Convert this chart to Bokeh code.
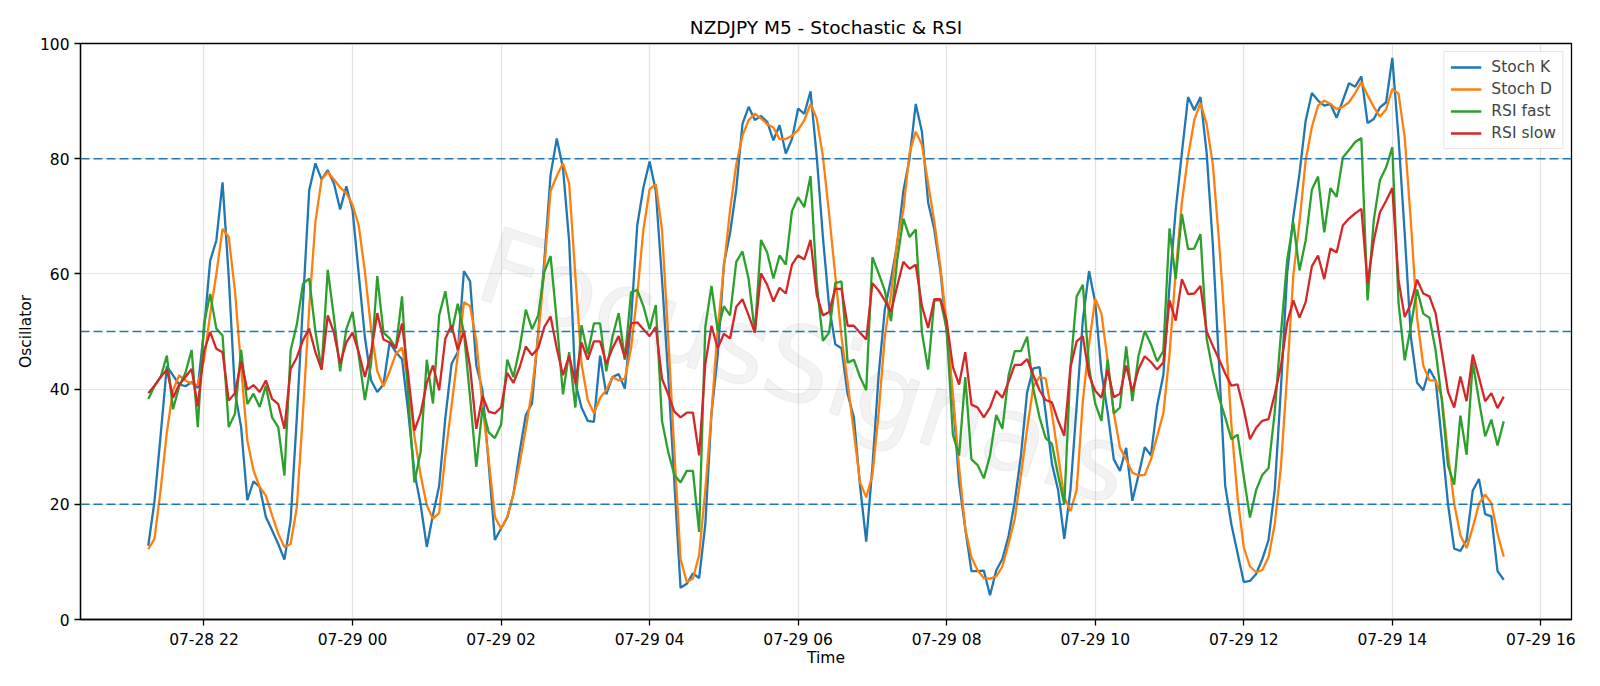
import pandas as pd
from bokeh.plotting import figure
from bokeh.models import Range1d, FixedTicker, DatetimeTickFormatter, Span, Legend, LegendItem
from bokeh.core.properties import value
from bokeh.embed import file_html
from bokeh.resources import INLINE

# ---------------- data ----------------
start_time = "2025-07-28 21:15"
n_points = 220

stoch_k = [
    12.8, 20.5, 32, 44, 42.4, 40.8, 40.5, 41.2, 40.2, 50.2,
    62.3, 65.8, 75.9, 59.5, 39.5, 33.4, 20.7, 24, 23, 17.8,
    15.5, 13.1, 10.4, 17.2, 35, 55, 74.5, 79.2, 76.4, 78,
    75.7, 71.2, 75.2, 71.1, 60, 49, 41.5, 39.5, 40.8, 48.1,
    46.4, 45.2, 36, 25.5, 20, 12.6, 18.2, 23.2, 35, 44.4,
    46.4, 60.5, 58.7, 44.1, 39.8, 27, 13.8, 15.8, 17.7, 21.8,
    29.1, 35.5, 37.5, 49.8, 62.4, 77.2, 83.5, 78.4, 65.7, 41.1,
    36.8, 34.5, 34.3, 45.8, 39.1, 42.1, 42.6, 40.1, 51.8, 68.4,
    75, 79.5, 74.4, 59.1, 42.4, 23.8, 5.5, 6.2, 8, 7.2,
    16.5, 35.8, 45.8, 61.7, 67.1, 74.7, 86, 89, 86.7, 87.4,
    86.4, 83.2, 85.8, 80.9, 83.4, 88.7, 87.8, 91.7, 80.4, 66.4,
    54.4, 47.8, 47.1, 39.1, 35.1, 23.2, 13.5, 26.5, 42.4, 53.8,
    59.1, 65.1, 74.4, 80, 89.5, 84.7, 72.4, 67.7, 60.4, 49.8,
    38.5, 23.8, 15.8, 8.4, 8.4, 8.5, 4.2, 8.5, 10.5, 14.5,
    20.5, 28.5, 39.5, 43.6, 43.8, 35.8, 27.1, 22.5, 14, 22.5,
    37.1, 52, 60.5, 55, 43, 36, 27.8, 25.8, 29.8, 20.6,
    25.1, 29.9, 28.5, 37.1, 42.4, 58, 71.1, 81, 90.7, 88.4,
    90.7, 81, 65.1, 44.4, 23.2, 16.5, 11.5, 6.5, 6.7, 7.9,
    10.5, 13.8, 22.5, 40, 60, 69.8, 77.4, 86.6, 91.4, 90.1,
    89.2, 89.5, 87.1, 90.1, 93.1, 92.5, 94.3, 86.2, 86.9, 88.9,
    89.8, 97.5, 83.7, 67, 49, 41.1, 39.8, 43.5, 41.5, 31,
    20, 12.3, 11.9, 13.8, 22.4, 24.4, 18.3, 17.9, 8.4, 6.9,
]

stoch_d = [
    12.2, 14, 22.5, 32.5, 39.8, 42.4, 41.5, 41, 40.7, 45,
    53, 60, 67.8, 66.4, 57.1, 43.8, 31.1, 25.9, 23, 21.5,
    18.1, 14.9, 12.6, 13.1, 19.5, 36, 54, 69, 76.4, 77.7,
    76.4, 75, 74, 72, 68.4, 60.4, 50.4, 43.1, 40.5, 43.1,
    46.1, 47.2, 41.1, 31.8, 25.1, 19.8, 17.5, 18.5, 28.5, 37.1,
    45.8, 55.1, 54.4, 48.4, 37.1, 27.8, 17.8, 15.8, 17.8, 21.8,
    27.1, 33.1, 39.8, 49.1, 61.1, 74.4, 77, 79.2, 75.7, 59.7,
    44.4, 38.1, 35.8, 38.5, 39.8, 42.1, 41.5, 41.8, 47.1, 56.4,
    67.7, 74.7, 75.6, 67.7, 49.1, 29.1, 10.5, 6.5, 7.1, 11.2,
    22.5, 35.8, 50.4, 61.1, 71.1, 79, 84, 86.7, 87.8, 87,
    86, 85.4, 83.4, 83.4, 84, 85, 86.7, 89.5, 87, 80.4,
    70.4, 59.7, 49.1, 41.1, 32.5, 23.8, 21.2, 25.1, 35.8, 49.1,
    56.4, 65.7, 71.1, 81, 84.7, 82.4, 75.7, 69.1, 61.1, 51.1,
    39.1, 26.5, 15.8, 10.8, 8.5, 7.2, 7.1, 7.5, 9.2, 13.2,
    17.5, 25.1, 33.1, 40.5, 42.1, 41.8, 35.8, 28.5, 21.2, 18.8,
    22.5, 38, 47.8, 55.7, 53.1, 45, 35.8, 29.8, 27.8, 25.5,
    25, 25.1, 27.8, 31.8, 35.8, 46, 60.4, 72.4, 80.4, 86.7,
    89.7, 86, 79, 65.7, 50.4, 33.8, 21.2, 12.5, 9.2, 8.2,
    8.6, 10.8, 16.5, 26.5, 42.4, 59.7, 69, 79.7, 85.5, 89.2,
    90.1, 89.5, 88.6, 89, 89.8, 91.4, 93.3, 91, 89, 87.3,
    88.6, 92.1, 91.3, 83.7, 69, 52.4, 44.1, 41.5, 41.5, 38.6,
    28.8, 20.1, 14.6, 12.4, 16, 20.1, 21.7, 20.2, 14.9, 10.9,
]

rsi_fast = [
    38.3, 40.5, 42.1, 45.8, 36.5, 40.5, 42.8, 46.8, 33.4, 51.3,
    56.5, 50.5, 49.3, 33.4, 35.7, 46.8, 37.4, 39.2, 36.9, 40.6,
    35.1, 33.4, 25, 46.7, 51.2, 58.3, 59.2, 50, 43.4, 60.7,
    52.4, 43.1, 50.4, 53.4, 45.8, 38.1, 44.4, 59.6, 49.8, 48.8,
    47.1, 56.1, 38.5, 23.8, 29.1, 45.1, 37.5, 52.8, 57, 49.8,
    54.8, 49.8, 38.5, 26.5, 36.8, 32.5, 31.5, 33.8, 45.1, 42.1,
    47.1, 53.8, 50.4, 52.8, 60.4, 63.1, 51.8, 39.1, 46.4, 36.8,
    51.1, 46.1, 51.4, 51.4, 43.1, 49.1, 53.2, 45.1, 56.8, 57.2,
    54.4, 50.4, 54.6, 34.5, 29.1, 25.1, 23.8, 25.8, 25.8, 15.2,
    50.8, 57.9, 50.1, 54.4, 52.8, 62.1, 63.9, 59.1, 49.8, 65.9,
    63.7, 59.2, 63.2, 61.6, 70.9, 73.3, 71.6, 77, 58.4, 48.4,
    49.8, 58.4, 58.7, 44.6, 45.1, 42.1, 39.8, 62.9, 60.1, 57.1,
    51.8, 62.4, 69.6, 66.4, 67.7, 49.8, 43.4, 55.4, 55.4, 50.4,
    32.1, 28.5, 42.1, 27.8, 26.8, 24.5, 28.5, 35.5, 33.1, 42.4,
    46.6, 46.6, 49.1, 40, 35.1, 31.5, 30.5, 25.1, 20, 43.8,
    56.1, 58.1, 43.8, 37.5, 34.5, 45.1, 35.8, 36.8, 47.4, 37.9,
    45.8, 50.1, 47.8, 44.8, 46.6, 67.9, 59.1, 70.4, 64.3, 64.4,
    66.9, 48.8, 43.1, 38.5, 35.1, 31.3, 32.1, 24.8, 17.7, 22.5,
    25.1, 26.3, 36, 49.6, 62.3, 69, 60.6, 65.8, 74.6, 76.9,
    67.2, 74.9, 73.4, 80.2, 81.5, 82.9, 83.6, 55.4, 69.3, 76.3,
    78.5, 82, 55, 45, 51, 57.3, 53.1, 52.4, 46.7, 38,
    26.7, 23.4, 35.4, 28.6, 44.7, 38, 31.8, 34.7, 30.2, 34.4,
]

rsi_slow = [
    39.3, 40.6, 42.1, 43.4, 38.5, 40.8, 42.1, 43.5, 37, 46.5,
    49.9, 47, 46.4, 38, 39.3, 44.8, 39.9, 40.7, 39.5, 41.5,
    38.3, 37.4, 33.1, 43.5, 45.5, 48.5, 50.5, 46.4, 43.4, 52.8,
    49.8, 44.4, 48.1, 49.8, 46.4, 42.1, 46.4, 53.2, 48.6, 48.1,
    47.1, 51.4, 42.4, 32.8, 35.8, 41.1, 44.1, 39.8, 48.8, 51.1,
    46.8, 50.1, 43.8, 33.1, 38.8, 36.1, 35.8, 36.8, 42.8, 41.1,
    43.8, 47.4, 45.9, 47.1, 50.8, 52.6, 47.1, 42.4, 45.8, 41.1,
    48.1, 45.1, 48.3, 48.3, 44.4, 47.1, 49.2, 45.4, 51.4, 51.6,
    50.4, 49.2, 50.8, 41.8, 39.1, 36.1, 35.1, 35.9, 35.9, 28.5,
    44.4, 51, 47.1, 49.6, 48.8, 54.3, 55.6, 52.8, 49.8, 60.1,
    58.1, 55.2, 57.6, 56.6, 61.6, 63.2, 62.5, 65.9, 56.4, 52.8,
    53.4, 57.4, 57.4, 51, 51, 49.8, 48.6, 58.4, 57.1, 55.4,
    53.4, 57.9, 62.1, 60.9, 61.6, 54.4, 50.6, 55.6, 55.6, 51.8,
    43.8, 40.8, 46.4, 37.3, 36.8, 35.1, 36.8, 39.7, 38.5, 41.3,
    44.2, 44.2, 45.2, 42.4, 39.8, 38.1, 37.7, 34.5, 31.9, 43.8,
    48.3, 49.2, 42.4, 39.7, 38.5, 43.3, 38.6, 39.2, 44.1, 39.6,
    43.5, 45.7, 44.7, 43.4, 44.6, 55.4, 51.9, 59.1, 56.5, 56.6,
    57.9, 50, 47.5, 45.2, 42.7, 40.6, 40.8, 36.5, 31.3, 33.3,
    34.5, 34.8, 39.1, 44, 51.5, 55.4, 52.4, 55.1, 61.3, 63.2,
    59.1, 64.4, 63.7, 68.4, 69.6, 70.5, 71.3, 58.4, 65.8, 70.7,
    72.7, 74.9, 58.9, 52.5, 54.8, 59, 56.6, 56.1, 53.1, 46.4,
    39.5, 36.8, 42.2, 37.9, 46, 42, 37.9, 39.3, 36.7, 38.7,
]

levels = [20, 50, 80]
y_ticks = [0, 20, 40, 60, 80, 100]
x_tick_times = ["2025-07-28 22:00", "2025-07-29 00:00", "2025-07-29 02:00",
                "2025-07-29 04:00", "2025-07-29 06:00", "2025-07-29 08:00",
                "2025-07-29 10:00", "2025-07-29 12:00", "2025-07-29 14:00",
                "2025-07-29 16:00"]
series_names = ["Stoch K", "Stoch D", "RSI fast", "RSI slow"]
series_colors = ["#1f77b4", "#ff7f0e", "#2ca02c", "#d62728"]
watermark_text = "FocusSignals"

# ---------------- figure ----------------
times = pd.date_range(start_time, periods=n_points, freq="5min")
span = times[-1] - times[0]
x0 = times[0] - span * 0.05
x1 = times[-1] + span * 0.05

FONT = "DejaVu Sans"
p = figure(width=1600, height=686, x_axis_type="datetime",
           x_range=Range1d(x0, x1), y_range=Range1d(0, 100),
           output_backend="svg", toolbar_location=None,
           min_border_left=80, min_border_right=29,
           min_border_top=43, min_border_bottom=67,
           title="NZDJPY M5 - Stochastic & RSI")

p.title.text_font = FONT
p.title.text_font_size = "18.5px"
p.title.text_font_style = "normal"
p.title.text_color = "black"
p.title.align = "center"
p.title.standoff = 12

p.background_fill_color = "white"
p.border_fill_color = "white"
p.outline_line_color = "black"
p.outline_line_width = 1.3
p.outline_line_alpha = 1

p.xgrid.grid_line_color = "#b0b0b0"
p.ygrid.grid_line_color = "#b0b0b0"
p.xgrid.grid_line_alpha = 0.35
p.ygrid.grid_line_alpha = 0.35
p.xgrid.grid_line_width = 1.2
p.ygrid.grid_line_width = 1.2

tick_ms = [pd.Timestamp(t).value / 1e6 for t in x_tick_times]
p.xaxis.ticker = FixedTicker(ticks=tick_ms)
fmt = "%m-%d %H"
p.xaxis.formatter = DatetimeTickFormatter(
    microseconds=fmt, milliseconds=fmt, seconds=fmt, minsec=fmt,
    minutes=fmt, hourmin=fmt, hours=fmt, days=fmt, months=fmt, years=fmt)
p.yaxis.ticker = FixedTicker(ticks=y_ticks)

for ax in (p.xaxis, p.yaxis):
    ax.major_label_text_font = FONT
    ax.major_label_text_font_size = "15.5px"
    ax.major_label_text_color = "black"
    ax.axis_label_text_font = FONT
    ax.axis_label_text_font_size = "15.5px"
    ax.axis_label_text_font_style = "normal"
    ax.axis_label_text_color = "black"
    ax.major_tick_line_color = "black"
    ax.major_tick_line_width = 1.3
    ax.major_tick_out = 6
    ax.major_tick_in = 0
    ax.minor_tick_line_color = None
    ax.axis_line_color = "black"
    ax.axis_line_width = 1.3
    ax.major_label_standoff = 5

p.xaxis.axis_label_standoff = -3
p.yaxis.axis_label_standoff = 2
p.xaxis.axis_label = "Time"
p.yaxis.axis_label = "Oscillator"

# faint watermark behind the data
wm = p.text(x=[pd.Timestamp("2025-07-29 01:45")], y=[62.0], text=[watermark_text],
            angle=-0.314, text_font=value(FONT), text_font_size="105px",
            text_color="#8c8c8c", text_alpha=0.10,
            text_align="left", text_baseline="alphabetic")
if "text_outline_color" in wm.glyph.properties():
    wm.glyph.text_outline_color = "#9a9a9a"

renderers = []
for name, vals, col in zip(series_names, [stoch_k, stoch_d, rsi_fast, rsi_slow], series_colors):
    r = p.line(times, vals, line_color=col, line_width=2.3)
    renderers.append(r)

for lv in levels:
    p.add_layout(Span(location=lv, dimension="width", line_color="#1f77b4",
                      line_dash="9 4", line_width=1.5))

legend = Legend(items=[LegendItem(label=n, renderers=[r]) for n, r in zip(series_names, renderers)],
                location="top_right")
legend.label_text_font = FONT
legend.label_text_font_size = "15.5px"
legend.border_line_color = "#cccccc"
legend.border_line_width = 1.2
legend.background_fill_alpha = 0.8
legend.margin = 8
legend.padding = 6
legend.spacing = 4
legend.glyph_width = 31
legend.glyph_height = 18
legend.label_height = 18
legend.label_standoff = 10
p.add_layout(legend)

open("out.html", "w").write(file_html(p, INLINE))
